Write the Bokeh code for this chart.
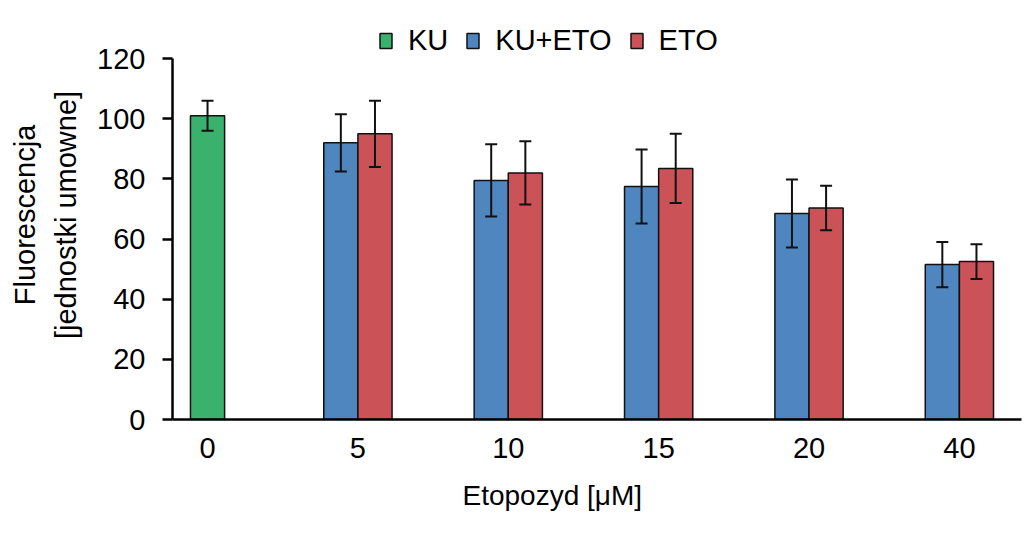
import numpy as np
from bokeh.plotting import figure
from bokeh.models import (ColumnDataSource, Whisker, TeeHead, Legend, LegendItem,
                          FixedTicker, Range1d, Title)
from bokeh.transform import dodge
from bokeh.embed import file_html
from bokeh.resources import INLINE

# ---- data ----
categories = ["0", "5", "10", "15", "20", "40"]
ku_cats = ["0"]
ku_vals = [101.0]
ku_err = [5.0]
kueto_cats = ["5", "10", "15", "20", "40"]
kueto_vals = [92.0, 79.5, 77.5, 68.5, 51.5]
kueto_err = [9.5, 12.0, 12.3, 11.3, 7.5]
eto_cats = ["5", "10", "15", "20", "40"]
eto_vals = [95.0, 82.0, 83.5, 70.3, 52.5]
eto_err = [11.0, 10.5, 11.5, 7.4, 5.8]
y_ticks = [0, 20, 40, 60, 80, 100, 120]

FONT = "Liberation Sans"
BAR_W = 0.227
HALF = BAR_W / 2
X0, X1 = -0.233, 5.413

pos = {c: i for i, c in enumerate(categories)}


def make_source(cats, vals, errs):
    return ColumnDataSource(dict(
        x=[pos[c] for c in cats],
        top=vals,
        upper=[v + e for v, e in zip(vals, errs)],
        lower=[v - e for v, e in zip(vals, errs)],
    ))


src_ku = make_source(ku_cats, ku_vals, ku_err)
src_kueto = make_source(kueto_cats, kueto_vals, kueto_err)
src_eto = make_source(eto_cats, eto_vals, eto_err)

p = figure(width=1024, height=556, output_backend="svg", toolbar_location=None,
           x_range=Range1d(X0, X1), y_range=Range1d(0, 136),
           min_border_left=172, min_border_right=3, min_border_top=10,
           min_border_bottom=137)
p.outline_line_color = None
p.xgrid.visible = False
p.ygrid.visible = False
p.background_fill_color = "white"
p.border_fill_color = "white"

series = [
    ("KU", src_ku, 0.0, "#3BB16E"),
    ("KU+ETO", src_kueto, -HALF, "#4F86C0"),
    ("ETO", src_eto, HALF, "#CB5257"),
]
renderers = {}
for name, src, off, col in series:
    r = p.vbar(x=dodge("x", off), top="top", width=BAR_W, bottom=0, source=src,
               fill_color=col, line_color="#111111", line_width=1.5)
    renderers[name] = r
    w = Whisker(base=dodge("x", off), upper="upper", lower="lower", source=src,
                line_color="#111111", line_width=2, level="annotation",
                upper_head=TeeHead(size=12, line_width=2, line_color="#111111"),
                lower_head=TeeHead(size=12, line_width=2, line_color="#111111"))
    p.add_layout(w)

# y axis
ya = p.yaxis[0]
ya.bounds = (0, 120)
ya.ticker = FixedTicker(ticks=y_ticks)
ya.axis_line_width = 2.5
ya.axis_line_color = "black"
ya.major_tick_line_width = 2.5
ya.major_tick_line_color = "black"
ya.major_tick_out = 10
ya.major_tick_in = 0
ya.minor_tick_line_color = None
ya.major_label_text_font = FONT
ya.major_label_text_font_size = "29px"
ya.major_label_text_color = "black"
ya.major_label_standoff = 17
ya.axis_label = "Fluorescencja\n[jednostki umowne]"
ya.axis_label_text_font = FONT
ya.axis_label_text_font_size = "29px"
ya.axis_label_text_font_style = "normal"
ya.axis_label_text_color = "black"
ya.axis_label_text_line_height = 1.3
ya.axis_label_standoff = 12

# x axis
xa = p.xaxis[0]
xa.ticker = FixedTicker(ticks=[pos[c] for c in categories])
xa.major_label_overrides = {pos[c]: c for c in categories}
xa.axis_line_width = 2.5
xa.axis_line_color = "black"
xa.major_tick_out = 0
xa.major_tick_in = 0
xa.major_tick_line_color = None
xa.minor_tick_line_color = None
xa.major_label_text_font = FONT
xa.major_label_text_font_size = "29px"
xa.major_label_text_color = "black"
xa.major_label_standoff = 18

# x-axis title, placed as in the reference (left of the frame centre)
xtitle = Title(text="Etopozyd [\u03bcM]", align="left", offset=290,
               text_font=FONT, text_font_size="28px", text_font_style="normal",
               text_color="black", standoff=34)
p.add_layout(xtitle, "below")

legend = Legend(items=[LegendItem(label=n, renderers=[renderers[n]]) for n, _, _, _ in series],
                orientation="horizontal", location=(206, 362),
                glyph_width=15, glyph_height=19, label_standoff=15, spacing=17,
                padding=0, margin=0, border_line_color=None,
                background_fill_alpha=0.0,
                label_text_font=FONT, label_text_font_size="29px",
                label_text_color="black")
p.add_layout(legend, "center")

open("out.html", "w").write(file_html(p, INLINE))
